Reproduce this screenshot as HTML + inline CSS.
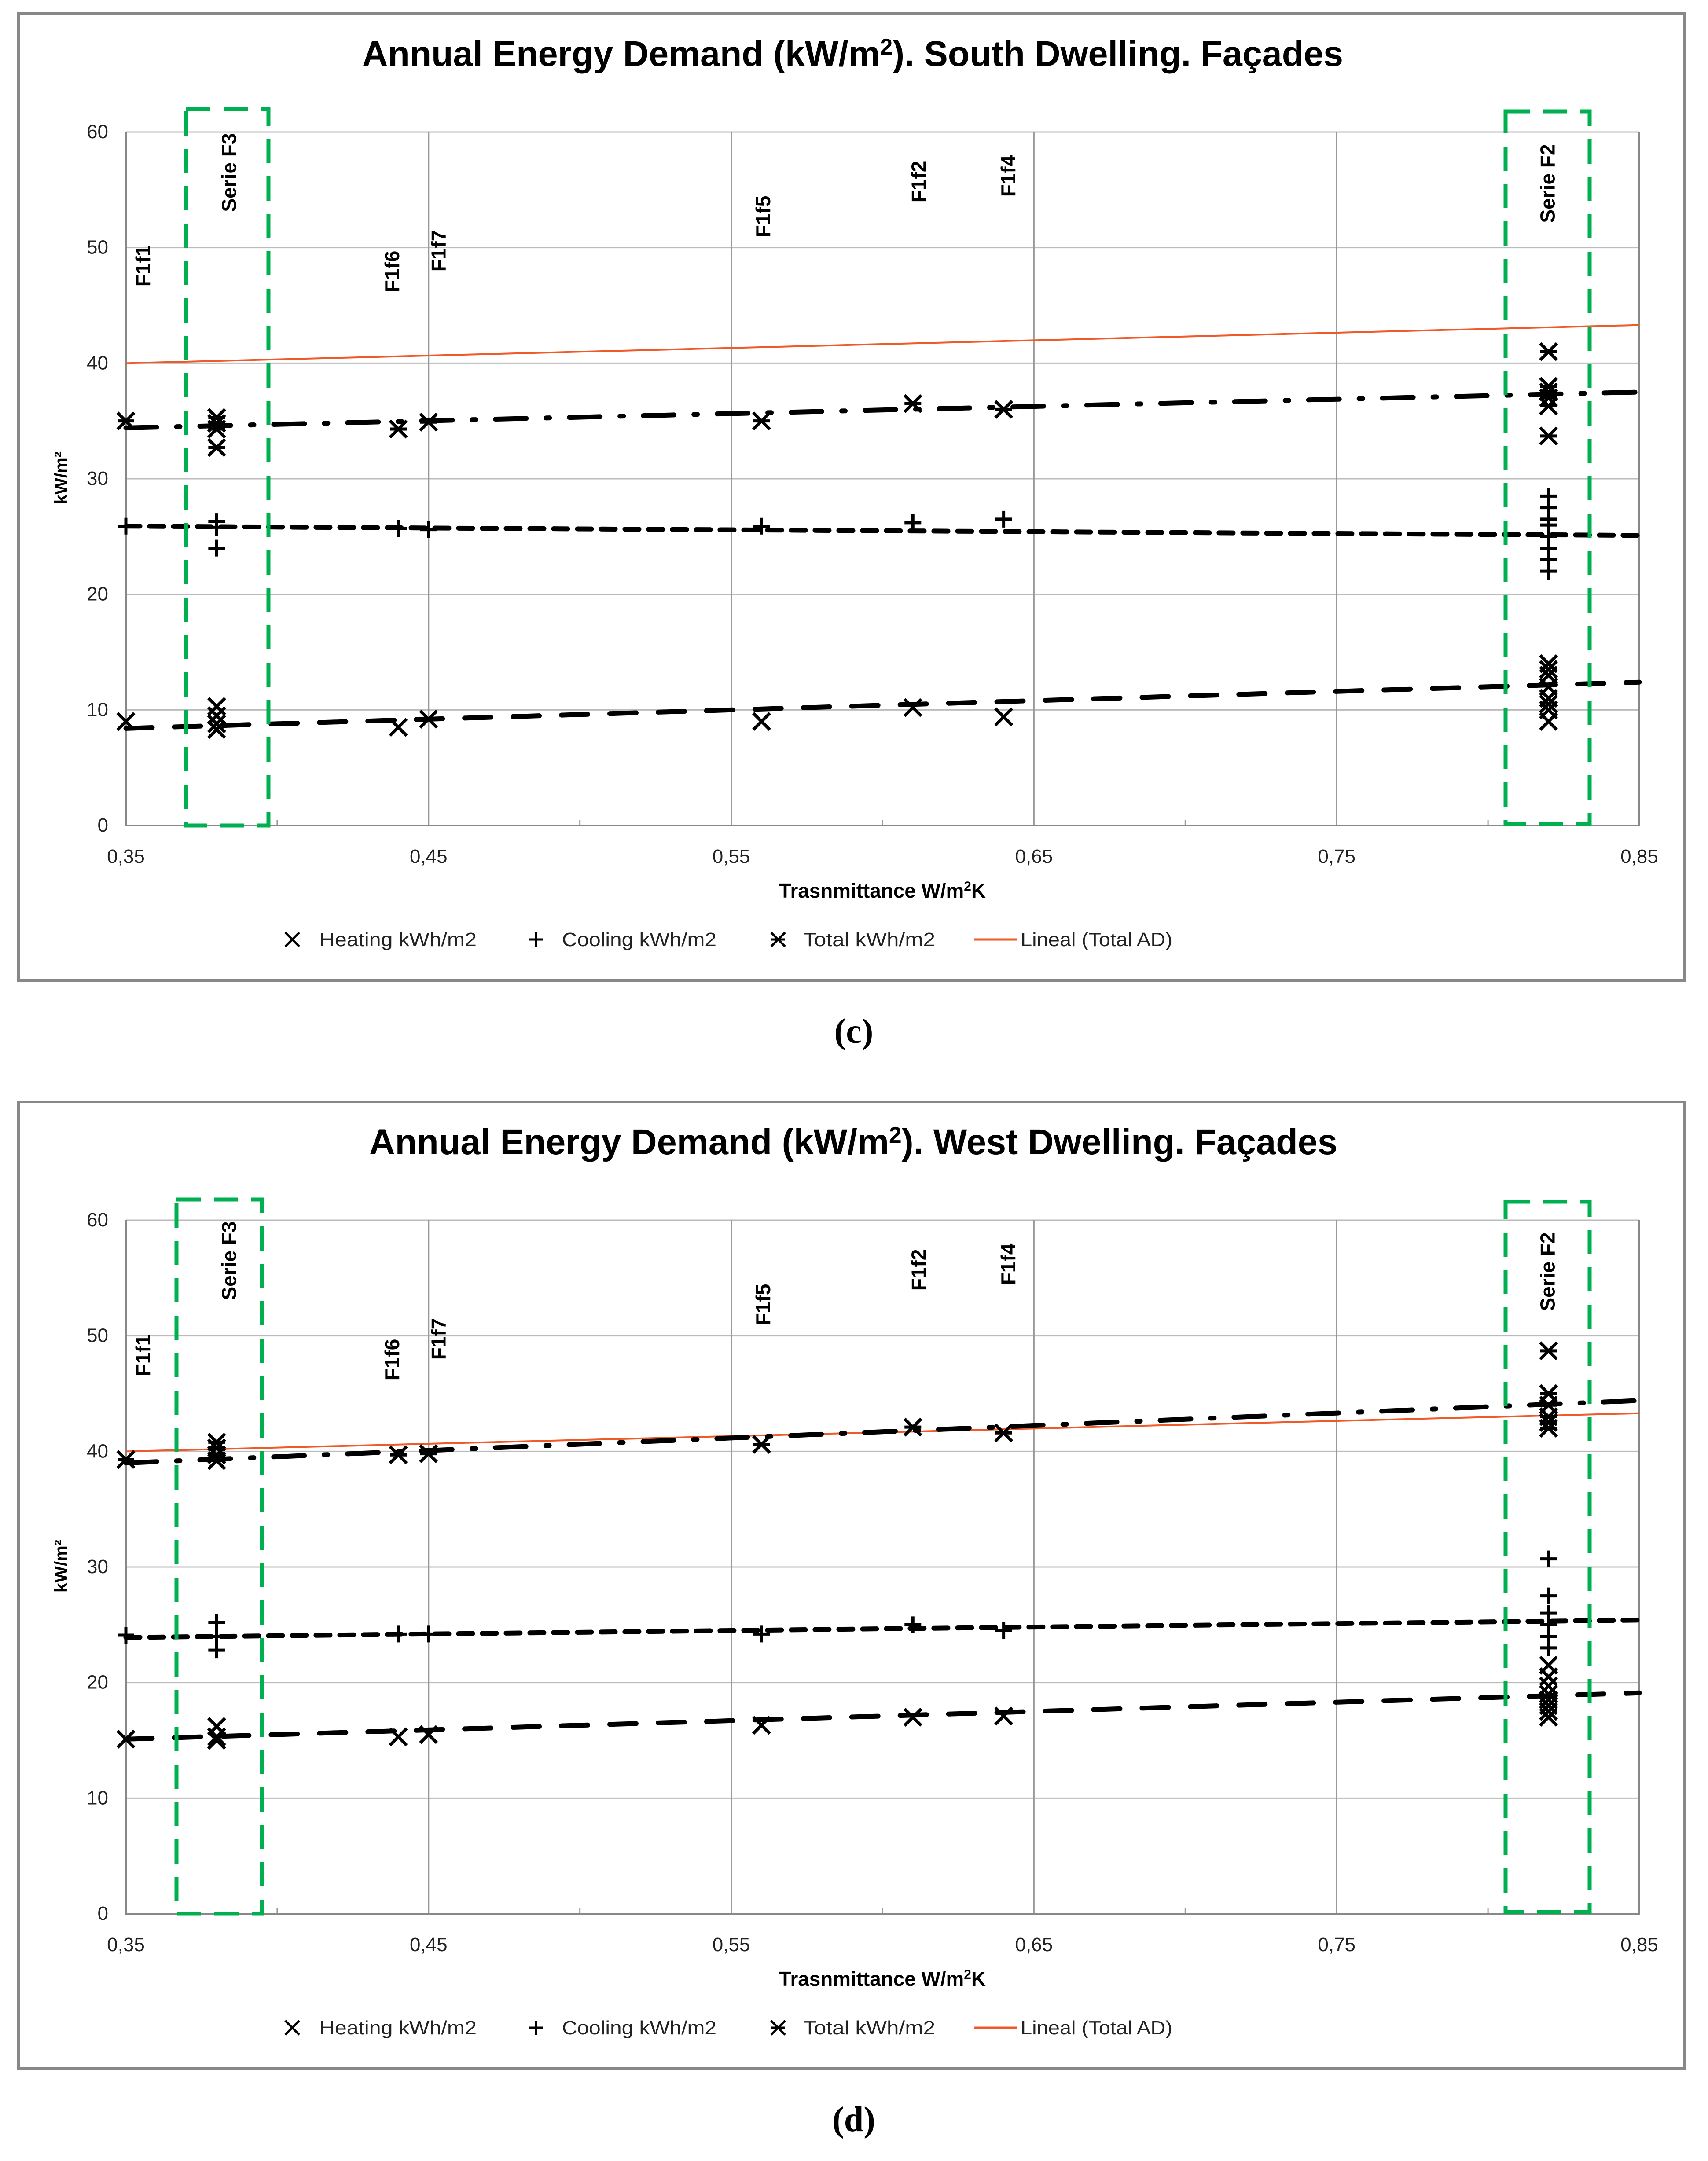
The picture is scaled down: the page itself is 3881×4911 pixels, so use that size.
<!DOCTYPE html>
<html><head><meta charset="utf-8">
<style>
html,body{margin:0;padding:0;background:#fff;}
svg{display:block;}
</style></head>
<body>
<svg id="root" width="3881" height="4911" viewBox="0 0 3881 4911" xmlns="http://www.w3.org/2000/svg" font-family="Liberation Sans Narrow, Liberation Sans, sans-serif"></svg>
<script>
// ---- data: chart (c) South ----
const southHeatX = [0.35,0.38,0.38,0.38,0.38,0.44,0.45,0.56,0.61,0.64,0.82,0.82,0.82,0.82,0.82,0.82,0.82,0.82];
const southHeatY = [9,8.3,8.8,9.5,10.3,8.5,9.2,9,10.2,9.4,9,10,10.5,11,12,13,13.5,14];
const southCoolX = [0.35,0.38,0.38,0.38,0.44,0.45,0.56,0.61,0.64,0.82,0.82,0.82,0.82,0.82,0.82,0.82,0.82];
const southCoolY = [25.9,24,25.8,26.3,25.7,25.6,25.9,26.2,26.5,22,23,24,25,26,26.5,27.5,28.5];
const southTotX = [0.35,0.38,0.38,0.38,0.38,0.44,0.45,0.56,0.61,0.64,0.82,0.82,0.82,0.82,0.82,0.82];
const southTotY = [35,32.7,34.3,34.8,35.3,34.3,34.9,35,36.5,36,33.7,36.3,37,37.5,38,41];
const southTrendHeat = [8.4,12.4];
const southTrendCool = [25.9,25.1];
const southTrendTot = [34.4,37.5];
const southLineal = [40,43.3];
// ---- data: chart (d) West ----
const westHeatX = [0.35,0.38,0.38,0.38,0.44,0.45,0.56,0.61,0.64,0.82,0.82,0.82,0.82,0.82,0.82,0.82,0.82];
const westHeatY = [15.1,15,15.3,16.2,15.3,15.5,16.3,17,17.1,17,17.5,18,18.5,19,19.7,20.5,21.5];
const westCoolX = [0.35,0.38,0.38,0.38,0.44,0.45,0.56,0.61,0.64,0.82,0.82,0.82,0.82,0.82,0.82];
const westCoolY = [24.1,22.8,24,25.2,24.2,24.2,24.2,25,24.5,23,24,25,26,27.5,30.7];
const westTotX = [0.35,0.38,0.38,0.38,0.38,0.44,0.45,0.56,0.61,0.64,0.82,0.82,0.82,0.82,0.82,0.82];
const westTotY = [39.3,39.2,39.7,40.3,40.8,39.7,39.8,40.6,42.1,41.6,42,42.5,43,44,45,48.7];
const westTrendHeat = [15.1,19.1];
const westTrendCool = [23.9,25.4];
const westTrendTot = [39,44.4];
const westLineal = [40,43.3];
// ---- shared axis data ----
const xTicks = [0.35,0.45,0.55,0.65,0.75,0.85];
const xTickLabels = ["0,35","0,45","0,55","0,65","0,75","0,85"];
const xMinor = [0.40,0.50,0.60,0.70,0.80];
const yTicks = [0,10,20,30,40,50,60];
const annNames = ["F1f1","Serie F3","F1f6","F1f7","F1f5","F1f2","F1f4","Serie F2"];
const annX = [0.3554,0.3838,0.4377,0.453,0.5602,0.6116,0.6412,0.8194];

const NS = "http://www.w3.org/2000/svg";
const root = document.getElementById('root');
function el(tag, attrs, parent){
  const e = document.createElementNS(NS, tag);
  for (const k in attrs) e.setAttribute(k, attrs[k]);
  (parent||root).appendChild(e);
  return e;
}

function drawChart(off, cfg){
  const g = el('g', {transform:'translate(0,'+off+')'});
  
  
  const X0=286, X1=3725, Y0=1876, Y1=300;
  const sx = v => X0 + (v-0.35)/(0.85-0.35)*(X1-X0);
  const sy = v => Y0 - v/60*(Y0-Y1);

  const frame = el('rect',{x:42,y:31,width:3786,height:2197,fill:'#fff',stroke:'#888','stroke-width':6},g);
  
  

  const title = el('text',{x:cfg.titleX,y:150,'font-size':82,'font-weight':'bold',fill:'#000',textLength:cfg.titleW,lengthAdjust:'spacingAndGlyphs'},g);
  
  
  title.innerHTML = cfg.title;

  yTicks.forEach(v=>{
    if(v>0){
      const l = el('line',{x1:X0,x2:X1,y1:sy(v),y2:sy(v),stroke:'#bbb','stroke-width':3},g);
      
      
    }
    const t = el('text',{x:X0-40,y:sy(v)+14,'text-anchor':'end','font-size':44,fill:'#222'},g);
    
    
    t.textContent = v;
  });
  xTicks.forEach((v,i)=>{
    if(i>0 && i<xTicks.length-1){
      const l = el('line',{x1:sx(v),x2:sx(v),y1:Y1,y2:Y0,stroke:'#999','stroke-width':3},g);
      
      
    }
    const t = el('text',{x:sx(v),y:Y0+85,'text-anchor':'middle','font-size':44,fill:'#222'},g);
    
    
    t.textContent = xTickLabels[i];
  });
  xMinor.forEach(v=>{
    const l = el('line',{x1:sx(v),x2:sx(v),y1:Y0-12,y2:Y0,stroke:'#999','stroke-width':3},g);
    
    
  });
  const ax = el('path',{d:`M${X0},${Y1}V${Y0}H${X1}V${Y1}`,fill:'none',stroke:'#888','stroke-width':4},g);
  
  

  const xt = el('text',{x:1770,y:2040,'font-size':46,'font-weight':'bold',fill:'#000',textLength:470,lengthAdjust:'spacingAndGlyphs'},g);
  
  
  xt.innerHTML = 'Trasnmittance W/m<tspan font-size="30" dy="-16">2</tspan><tspan dy="16">K</tspan>';
  const yt = el('text',{x:0,y:0,'text-anchor':'middle','font-size':40,'font-weight':'bold',fill:'#000',transform:'translate(152,1086) rotate(-90)','font-family':'Liberation Sans, sans-serif'},g);
  
  
  yt.textContent = 'kW/m²';

  const lin = el('line',{x1:sx(0.35),y1:sy(cfg.lineal[0]),x2:sx(0.85),y2:sy(cfg.lineal[1]),stroke:'#f05a28','stroke-width':4},g);
  
  

  const tr = [[cfg.trendHeat,'60,50','heating-trendline'],[cfg.trendCool,'32,22','cooling-trendline'],[cfg.trendTot,'70,45,8,45','total-trendline']];
  tr.forEach(([d,dash,nm])=>{
    const l = el('line',{x1:sx(0.35),y1:sy(d[0]),x2:sx(0.85),y2:sy(d[1]),stroke:'#000','stroke-width':11,'stroke-dasharray':dash,'stroke-linecap':'round'},g);
    
    
  });

  const r=19;
  function xMark(cx,cy,nm){
    const p = el('path',{d:`M${cx-r},${cy-r}L${cx+r},${cy+r}M${cx+r},${cy-r}L${cx-r},${cy+r}`,stroke:'#000','stroke-width':7,fill:'none'},g);
    
    
  }
  function plusMark(cx,cy,nm){
    const p = el('path',{d:`M${cx-r},${cy}L${cx+r},${cy}M${cx},${cy-r}L${cx},${cy+r}`,stroke:'#000','stroke-width':7,fill:'none'},g);
    
    
  }
  function starMark(cx,cy,nm){
    const p = el('path',{d:`M${cx-r},${cy-r}L${cx+r},${cy+r}M${cx+r},${cy-r}L${cx-r},${cy+r}M${cx-r},${cy}L${cx+r},${cy}`,stroke:'#000','stroke-width':7,fill:'none'},g);
    
    
  }
  cfg.heatX.forEach((x,i)=>xMark(sx(x),sy(cfg.heatY[i]),'heating-point'));
  cfg.coolX.forEach((x,i)=>plusMark(sx(x),sy(cfg.coolY[i]),'cooling-point'));
  cfg.totX.forEach((x,i)=>starMark(sx(x),sy(cfg.totY[i]),'total-point'));

  annNames.forEach((n,i)=>{
    const ay = cfg.annY[i];
    const t = el('text',{x:0,y:0,'text-anchor':'middle','font-size':46,'font-weight':'bold',fill:'#000','font-family':'Liberation Sans, sans-serif',transform:`translate(${sx(annX[i])+18},${ay}) rotate(-90)`},g);
    
    
    t.textContent = n;
  });

  cfg.boxes.forEach((b,i)=>{
    const rc = el('rect',{x:b[0],y:b[1],width:b[2]-b[0],height:b[3]-b[1],fill:'none',stroke:'#00b050','stroke-width':9,'stroke-dasharray':'55,30'},g);
    
    
  });

  const lg = el('g',{},g);
  
  
  const LY=2135;
  function legText(x,w,s){
    const t = el('text',{x:x,y:LY+15,'font-size':44,fill:'#222',textLength:w,lengthAdjust:'spacingAndGlyphs'},lg);
    
    
    t.textContent = s;
  }
  const lr=16;
  const m1 = el('path',{d:`M${664-lr},${LY-lr}L${664+lr},${LY+lr}M${664+lr},${LY-lr}L${664-lr},${LY+lr}`,stroke:'#000','stroke-width':5},lg);
   
  legText(726,357,'Heating kWh/m2');
  const m2 = el('path',{d:`M${1218-lr},${LY}L${1218+lr},${LY}M${1218},${LY-lr}L${1218},${LY+lr}`,stroke:'#000','stroke-width':5},lg);
   
  legText(1277,351,'Cooling kWh/m2');
  const m3 = el('path',{d:`M${1768-lr},${LY-lr}L${1768+lr},${LY+lr}M${1768+lr},${LY-lr}L${1768-lr},${LY+lr}M${1768-lr},${LY}L${1768+lr},${LY}`,stroke:'#000','stroke-width':5},lg);
   
  legText(1825,300,'Total kWh/m2');
  const m4 = el('line',{x1:2214,x2:2312,y1:LY,y2:LY,stroke:'#f05a28','stroke-width':5},lg);
   
  legText(2319,345,'Lineal (Total AD)');

  const cap = el('text',{x:1940,y:2370,'text-anchor':'middle','font-size':80,'font-weight':'bold',fill:'#000','font-family':'Liberation Serif, serif'},g);
  
  
  cap.textContent = cfg.caption;
}

drawChart(0,{
  name:'south-dwelling-chart',
  title:'Annual Energy Demand (kW/m<tspan font-size="52" dy="-26">2</tspan><tspan dy="26">). South Dwelling. Façades</tspan>',
  titleX:823, titleW:2229,
  heatX:southHeatX, heatY:southHeatY, coolX:southCoolX, coolY:southCoolY, totX:southTotX, totY:southTotY,
  trendHeat:southTrendHeat, trendCool:southTrendCool, trendTot:southTrendTot, lineal:southLineal,
  annY:[604,392,617,570,492,413,400,417],
  boxes:[[423,248,610,1876],[3421,253,3612,1872]],
  caption:'(c)'
});
drawChart(2473,{
  name:'west-dwelling-chart',
  title:'Annual Energy Demand (kW/m<tspan font-size="52" dy="-26">2</tspan><tspan dy="26">). West Dwelling. Façades</tspan>',
  titleX:839, titleW:2200,
  heatX:westHeatX, heatY:westHeatY, coolX:westCoolX, coolY:westCoolY, totX:westTotX, totY:westTotY,
  trendHeat:westTrendHeat, trendCool:westTrendCool, trendTot:westTrendTot, lineal:westLineal,
  annY:[607,392,617,570,492,413,400,417],
  boxes:[[401,253,595,1876],[3421,258,3612,1872]],
  caption:'(d)'
});
</script>
</body></html>
